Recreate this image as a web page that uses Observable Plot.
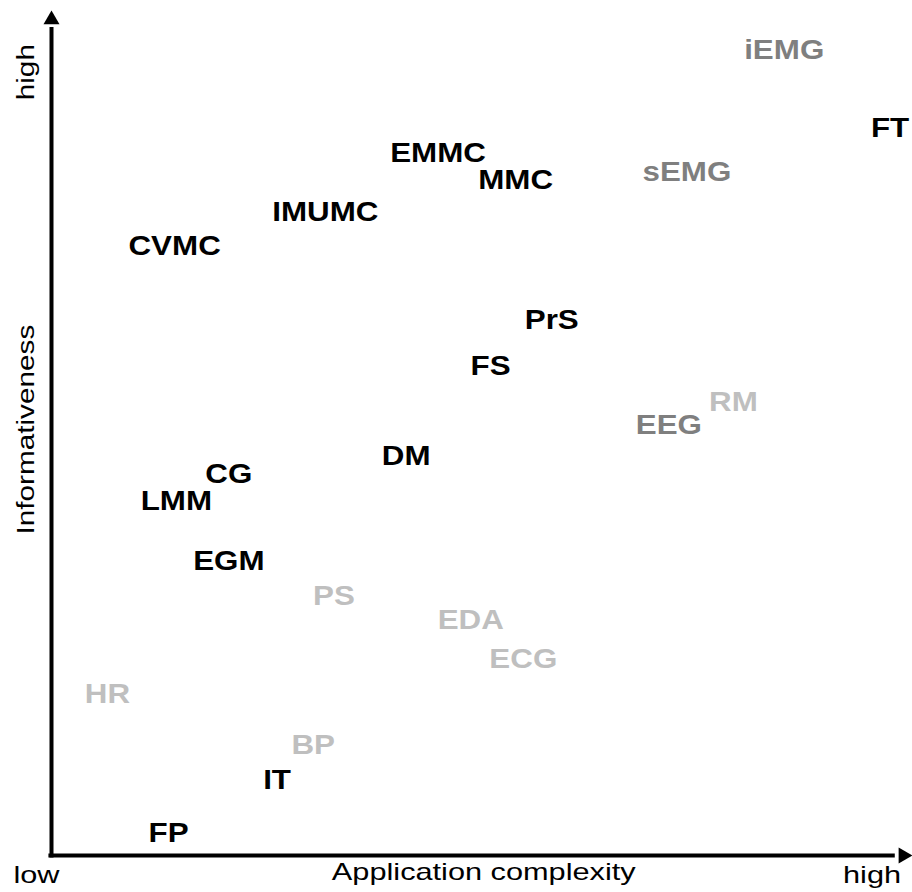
<!DOCTYPE html>
<html><head><meta charset="utf-8">
<script src="https://cdn.jsdelivr.net/npm/d3@7"></script>
<script src="https://cdn.jsdelivr.net/npm/@observablehq/plot@0.6"></script>
<style>
html,body{margin:0;padding:0;background:#fff;}
</style>
</head><body><div id="chart"></div>
<script>
// Sensor / modality labels
const labels = ["iEMG","FT","EMMC","MMC","sEMG","IMUMC","CVMC","PrS","FS","RM","EEG","DM","CG","LMM","EGM","PS","EDA","ECG","HR","BP","IT","FP"];
// Application complexity (0 = low, 100 = high)
const complexity = [85.1,97.4,44.9,53.9,73.8,31.8,14.3,58.1,51.0,79.2,71.7,41.2,20.6,14.5,20.6,32.8,48.7,54.8,6.5,30.4,26.2,13.6];
// Informativeness (0 = low, 100 = high)
const informativeness = [95.3,86.1,83.1,79.9,80.9,76.2,72.1,63.4,57.9,53.7,51.0,47.3,45.1,41.9,34.8,30.7,27.9,23.2,19.1,13.1,8.9,2.7];
// Shade group of each label
const group = ["gray","black","black","black","gray","black","black","black","black","light","gray","black","black","black","black","light","light","light","light","light","black","black"];

const xTitles = ["low","Application complexity","high"];
const yTitles = ["high","Informativeness"];

const points = labels.map((l, i) => ({label: l, x: complexity[i], y: informativeness[i], group: group[i]}));
const xT = [{t: xTitles[0], x: -1.75, y: -2.4}, {t: xTitles[1], x: 50.2, y: -2.0}, {t: xTitles[2], x: 95.3, y: -2.4}];
const yT = [{t: yTitles[0], x: -2.87, y: 92.7}, {t: yTitles[1], x: -2.87, y: 50.4}];

const chart = Plot.plot({
  width: 912, height: 892,
  marginLeft: 51, marginRight: 0, marginTop: 10, marginBottom: 37,
  x: {domain: [0, 100], axis: null},
  y: {domain: [0, 100], axis: null},
  color: {domain: ["black","gray","light"], range: ["#000000","#7f7f7f","#bfbfbf"]},
  style: {fontFamily: "'Liberation Sans', Arial, sans-serif", background: "#fff", overflow: "visible"},
  marks: [
    Plot.ruleY([0], {x1: -0.3, x2: 98, stroke: "#000", strokeWidth: 4}),
    Plot.ruleX([0], {y1: -0.3, y2: 98, stroke: "#000", strokeWidth: 4}),
    Plot.dot([{x: 0, y: 100}], {x: "x", y: "y", symbol: "triangle", r: 5.94, fill: "#000", stroke: "none", dy: 9.24}),
    Plot.dot([{x: 100, y: 0}], {x: "x", y: "y", symbol: "triangle", r: 5.94, fill: "#000", stroke: "none", rotate: 90, dx: -9.24}),
    Plot.text(points, {x: "x", y: "y", text: "label", fill: "group", fontWeight: "bold", fontSize: 28, textAnchor: "middle", lineAnchor: "middle"}),
    Plot.text(xT, {x: "x", y: "y", text: "t", fill: "#000", fontSize: 24, textAnchor: "middle", lineAnchor: "middle"}),
    Plot.text(yT, {x: "x", y: "y", text: "t", fill: "#000", fontSize: 24, rotate: -90, textAnchor: "middle", lineAnchor: "middle"})
  ]
});

// horizontal glyph stretch (along the reading direction) to match the reference typography
const textGroups = d3.select(chart).selectAll('g[aria-label="text"]').nodes();
const stretchFactors = [1.12, 1.28, 1.24];
textGroups.forEach((g, k) => {
  const s = stretchFactors[k];
  d3.select(g).selectAll("text").each(function() {
    const t = this.getAttribute("transform") || "";
    this.setAttribute("transform", t + ` scale(${s},1)`);
  });
});

document.getElementById("chart").appendChild(chart);
</script>
</body></html>
